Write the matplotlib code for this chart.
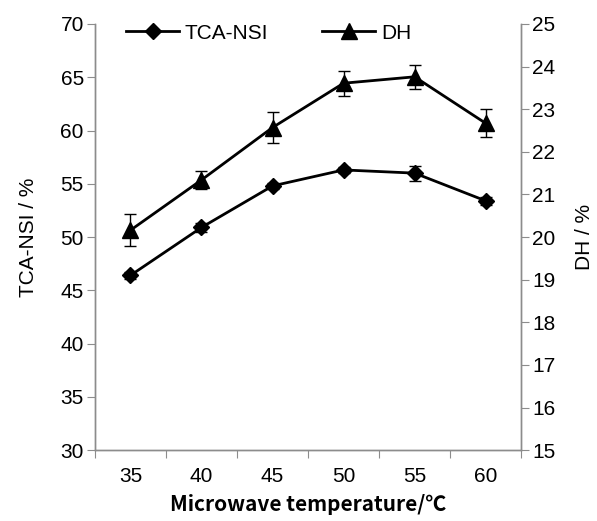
import matplotlib
matplotlib.use("Agg")
import matplotlib.pyplot as plt
from matplotlib.lines import Line2D
import numpy as np

temps = ["35", "40", "45", "50", "55", "60"]
tca_nsi = [46.4, 50.9, 54.8, 56.3, 56.0, 53.4]
tca_err = [0.3, 0.4, 0.3, 0.3, 0.7, 0.4]
dh = [20.16, 21.34, 22.57, 23.61, 23.76, 22.67]
dh_err = [0.37, 0.21, 0.36, 0.29, 0.28, 0.33]

plt.rcParams['font.family'] = ['Liberation Sans', 'DejaVu Sans']
fig = plt.figure(figsize=(5.97, 5.21), dpi=100)
ax = fig.add_axes([0.159, 0.136, 0.714, 0.818])
ax2 = ax.twinx()

x = np.arange(len(temps))
gray = '#8c8c8c'

ax.errorbar(x, tca_nsi, yerr=tca_err, color='black', marker='D', markersize=8,
            linewidth=2, capsize=4, elinewidth=1, capthick=1)
ax2.errorbar(x, dh, yerr=dh_err, color='black', marker='^', markersize=11,
             linewidth=2, capsize=4, elinewidth=1, capthick=1)

ax.set_ylim(30, 70)
ax.set_yticks(np.arange(30, 71, 5))
ax2.set_ylim(15, 25)
ax2.set_yticks(np.arange(15, 26, 1))
ax.set_xlim(-0.5, len(temps) - 0.5)
ax.set_xticks(np.arange(-0.5, len(temps), 1))
ax.set_xticklabels([])
ax.set_xticks(x, minor=True)
ax.set_xticklabels(temps, minor=True)
ax.tick_params(axis='x', which='minor', length=0, labelsize=15, pad=12)
ax.tick_params(axis='x', which='major', length=6, color=gray, direction='out')
ax.tick_params(axis='y', length=6, color=gray, labelsize=15, pad=2)
ax2.tick_params(axis='y', length=6, color=gray, labelsize=15, pad=2)

for a in (ax, ax2):
    a.spines['top'].set_visible(False)
    for s in ('left', 'right', 'bottom'):
        a.spines[s].set_color(gray)
        a.spines[s].set_linewidth(1)

ax.set_ylabel('TCA-NSI / %', fontsize=15, labelpad=16)
ax2.set_ylabel('DH / %', fontsize=15, labelpad=14)
ax.set_xlabel('Microwave temperature/℃', fontsize=15, fontweight='bold',
              family=['Noto Sans CJK SC', 'DejaVu Sans'], labelpad=6)

h1 = Line2D([], [], color='black', marker='D', markersize=8, linewidth=2)
h2 = Line2D([], [], color='black', marker='^', markersize=11, linewidth=2)
leg = ax.legend([h1, h2], ['TCA-NSI', 'DH'], loc='upper left', ncol=2, frameon=False,
                bbox_to_anchor=(0.03, 1.045), fontsize=15, handlelength=2.5,
                columnspacing=2.6, handletextpad=0.3)

fig.savefig('out.png', dpi=100)
